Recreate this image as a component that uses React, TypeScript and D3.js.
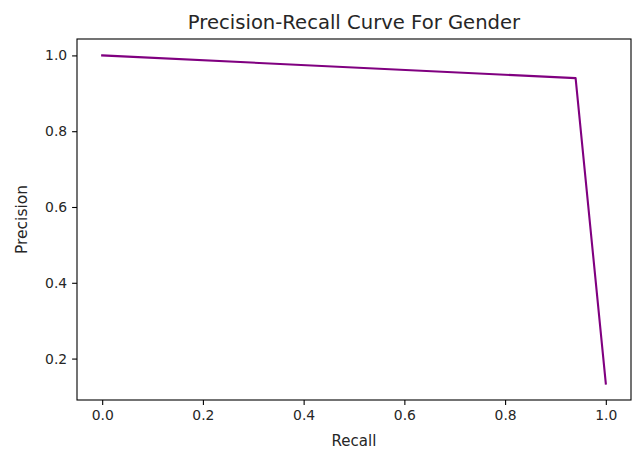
import { useEffect, useRef } from 'react'
import * as d3 from 'd3'

// precision-recall points
const recall = [0.0, 0.94, 1.0]
const precision = [1.0, 0.94, 0.134]
const xTicks = [0.0, 0.2, 0.4, 0.6, 0.8, 1.0]
const yTicks = [0.2, 0.4, 0.6, 0.8, 1.0]

const W = 638
const H = 450

const App = () => {
  const svgRef = useRef<SVGSVGElement | null>(null)

  useEffect(() => {
    const svg = d3.select(svgRef.current)
    svg.selectAll('*').remove()

    const margin = { top: 39, right: 7, bottom: 50, left: 77 }
    const x0 = margin.left
    const x1 = W - margin.right
    const y0 = margin.top
    const y1 = H - margin.bottom

    // matplotlib style 5% margins around the data
    const xExt = d3.extent(recall) as [number, number]
    const yExt = d3.extent(precision) as [number, number]
    const xPad = (xExt[1] - xExt[0]) * 0.05
    const yPad = (yExt[1] - yExt[0]) * 0.05

    const x = d3.scaleLinear().domain([xExt[0] - xPad, xExt[1] + xPad]).range([x0, x1])
    const y = d3.scaleLinear().domain([yExt[0] - yPad, yExt[1] + yPad]).range([y1, y0])

    const font = 'DejaVu Sans, sans-serif'
    const g = svg.append('g')

    const line = d3
      .line<number>()
      .x((_, i) => x(recall[i]))
      .y((d) => y(d))

    g.append('path')
      .datum(precision)
      .attr('d', line)
      .attr('fill', 'none')
      .attr('stroke', '#800080')
      .attr('stroke-width', 2.1)
      .attr('stroke-linejoin', 'round')
      .attr('stroke-linecap', 'square')

    // frame
    g.append('rect')
      .attr('x', x0)
      .attr('y', y0)
      .attr('width', x1 - x0)
      .attr('height', y1 - y0)
      .attr('fill', 'none')
      .attr('stroke', '#000')
      .attr('stroke-width', 1.1)

    const xAxis = d3
      .axisBottom(x)
      .tickValues(xTicks)
      .tickFormat(d3.format('.1f'))
      .tickSize(4.9)
      .tickPadding(4.9)
    const gx = g.append('g').attr('transform', `translate(0,${y1})`).call(xAxis)

    const yAxis = d3
      .axisLeft(y)
      .tickValues(yTicks)
      .tickFormat(d3.format('.1f'))
      .tickSize(4.9)
      .tickPadding(4.9)
    const gy = g.append('g').attr('transform', `translate(${x0},0)`).call(yAxis)

    for (const ax of [gx, gy]) {
      ax.select('.domain').remove()
      ax.selectAll('line').attr('stroke', '#000').attr('stroke-width', 1.1)
      ax.selectAll('text')
        .attr('fill', '#262626')
        .style('font-family', font)
        .style('font-size', '13.9px')
    }

    g.append('text')
      .attr('x', (x0 + x1) / 2)
      .attr('y', 28.5)
      .attr('text-anchor', 'middle')
      .attr('fill', '#262626')
      .style('font-family', font)
      .style('font-size', '19.6px')
      .text('Precision-Recall Curve For Gender')

    g.append('text')
      .attr('x', (x0 + x1) / 2)
      .attr('y', 446)
      .attr('text-anchor', 'middle')
      .attr('fill', '#262626')
      .style('font-family', font)
      .style('font-size', '15px')
      .text('Recall')

    g.append('text')
      .attr('transform', `translate(26.5,${(y0 + y1) / 2}) rotate(-90)`)
      .attr('text-anchor', 'middle')
      .attr('fill', '#262626')
      .style('font-family', font)
      .style('font-size', '15.5px')
      .text('Precision')
  }, [])

  return (
    <svg
      ref={svgRef}
      width={W}
      height={H}
      style={{ position: 'absolute', left: 0, top: 0, background: '#fff' }}
    ></svg>
  )
}

export default App
